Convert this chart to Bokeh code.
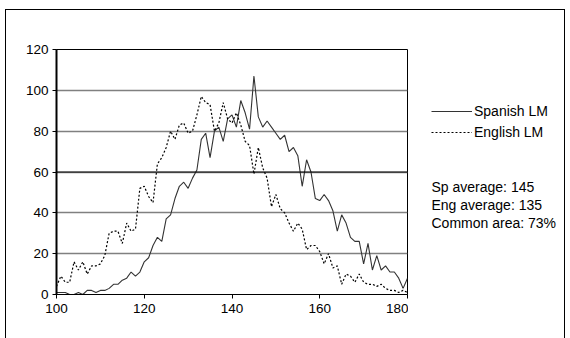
from bokeh.plotting import figure
from bokeh.layouts import row
from bokeh.models import Range1d, Legend, LegendItem, Label, Span, FixedTicker
from bokeh.embed import file_html
from bokeh.resources import INLINE

x_vals = list(range(100, 181))

spanish = [1, 1, 1, 0, 0, 1, 0, 2, 2, 1,
           2, 2, 3, 5, 5, 7, 8, 11, 9, 11,
           16, 18, 24, 28, 26, 37, 39, 47, 53, 55,
           52, 57, 61, 76, 79, 67, 80, 82, 75, 86,
           88, 82, 95, 89, 81, 107, 87, 82, 85, 82,
           79, 76, 78, 70, 72, 68, 53, 66, 60, 47,
           46, 49, 46, 41, 31, 39, 35, 28, 26, 26,
           15, 25, 12, 19, 12, 14, 11, 11, 8, 3, 8]

english = [4, 9, 6, 6, 16, 12, 16, 10, 14, 14,
           15, 19, 30, 31, 31, 25, 35, 31, 32, 52,
           53, 48, 45, 64, 67, 72, 80, 76, 83, 84,
           79, 80, 88, 97, 94, 93, 80, 84, 94, 86,
           84, 89, 83, 75, 73, 59, 72, 62, 57, 43,
           49, 42, 40, 35, 31, 35, 32, 22, 24, 24,
           21, 15, 20, 13, 14, 5, 10, 9, 6, 10,
           6, 5, 5, 4, 5, 3, 2, 2, 1, 2, 1]

x_ticks = [100, 120, 140, 160, 180]
y_ticks = [0, 20, 40, 60, 80, 100, 120]
series_names = ["Spanish LM", "English LM"]
stats_lines = ["Sp average: 145", "Eng average: 135", "Common area: 73%"]

FONT = "Liberation Sans"
FS_TICK = "13.5px"
FS_TEXT = "14px"
H = 328
SP_COLOR = "#333333"
EN_COLOR = "black"

p = figure(width=402, height=H, output_backend="svg", toolbar_location=None,
           x_range=Range1d(100, 180), y_range=Range1d(0, 120),
           min_border_left=50, min_border_right=1, min_border_top=39,
           min_border_bottom=H - 39 - 245)

p.outline_line_color = "black"
p.outline_line_width = 1
p.background_fill_color = "white"
p.border_fill_color = "white"

p.xaxis.ticker = FixedTicker(ticks=x_ticks)
p.yaxis.ticker = FixedTicker(ticks=y_ticks)
for ax in (p.xaxis[0], p.yaxis[0]):
    ax.major_tick_in = 0
    ax.major_tick_out = 4
    ax.minor_tick_line_color = None
    ax.axis_line_color = "black"
    ax.major_tick_line_color = "black"
    ax.major_label_text_font = FONT
    ax.major_label_text_font_size = FS_TICK
    ax.major_label_text_color = "black"
p.yaxis.axis_line_width = 2
p.xaxis.major_label_standoff = 5
p.yaxis.major_label_standoff = 4

p.xgrid.grid_line_color = None
p.ygrid.grid_line_color = "#808080"
p.ygrid.grid_line_width = 1.5
p.add_layout(Span(location=60, dimension="width", line_color="black", line_width=1.2))

p.line(x_vals, spanish, line_color=SP_COLOR, line_width=1.1)
p.line(x_vals, english, line_color=EN_COLOR, line_width=1.2, line_dash="2 2")

# side panel holding the legend and the statistics text
s = figure(width=156, height=H, output_backend="svg", toolbar_location=None,
           x_range=Range1d(0, 1), y_range=Range1d(0, 1),
           min_border=0, x_axis_type=None, y_axis_type=None)
s.grid.grid_line_color = None
s.outline_line_color = None
s.background_fill_color = "white"
s.border_fill_color = "white"

# legend proxies: same data and styles, outside this panel's visible range
leg_sp = s.line(x_vals, spanish, line_color=SP_COLOR, line_width=1.1)
leg_en = s.line(x_vals, english, line_color=EN_COLOR, line_width=1.2, line_dash="2 2")

legend = Legend(items=[LegendItem(label=series_names[0], renderers=[leg_sp]),
                       LegendItem(label=series_names[1], renderers=[leg_en])],
                location=(23, 152), padding=0, margin=0, spacing=1,
                glyph_width=41, glyph_height=20, label_height=20, label_standoff=2,
                label_text_font=FONT, label_text_font_size=FS_TEXT,
                label_text_color="black",
                border_line_color=None, background_fill_alpha=0)
s.add_layout(legend, "center")

stat_y = [108, 90, 72]
for t, yy in zip(stats_lines, stat_y):
    s.add_layout(Label(x=23, y=yy, x_units="screen", y_units="screen",
                       text=t, text_font=FONT, text_font_size=FS_TEXT,
                       text_baseline="middle", text_color="black"))

layout = row(p, s, spacing=0)
layout.styles = {"border": "1px solid black", "border-bottom": "none",
                 "margin-left": "5px", "margin-top": "9px"}

open("out.html", "w").write(file_html(layout, INLINE))
